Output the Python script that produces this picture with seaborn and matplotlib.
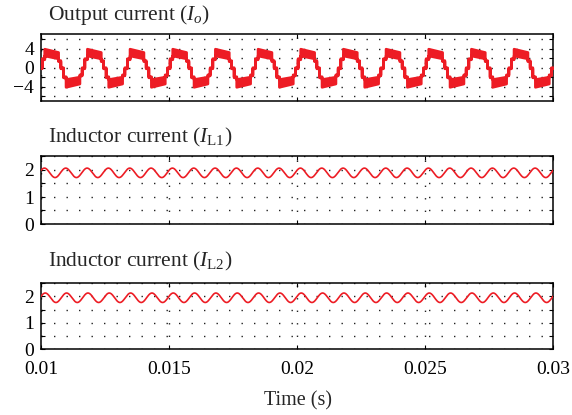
import numpy as np
import pandas as pd
import matplotlib
matplotlib.use("Agg")
import matplotlib.pyplot as plt
import seaborn as sns

# ---------------- data ----------------
time_range = [0.01, 0.03]
x_ticks = [0.01, 0.015, 0.02, 0.025, 0.03]
x_tick_labels = ["0.01", "0.015", "0.02", "0.025", "0.03"]

# Output current: 5-level staircase, one period described by breakpoints
io_freq = 600.0                 # Hz (12 cycles over 0.02 s)
io_phase_offset = -0.015        # phase at t = 0.01 (in periods)
io_bp_x = [0, 8, 8.01, 50, 50.01, 57, 57.01, 65, 65.01, 73, 73.01, 115, 115.01, 122, 122.01, 130]  # /130 of a period
io_hi = [2.0, 2.0, 4.0, 3.3, 1.6, 1.6, 0.1, 0.1, -1.8, -1.8, -2.4, -1.9, -1.4, -1.4, 0.1, 0.1]
io_lo = [1.8, 1.8, 2.6, 2.0, 1.4, 1.4, -0.1, -0.1, -2.0, -2.0, -4.0, -3.3, -1.6, -1.6, -0.1, -0.1]
io_yticks = [-6, -4, -2, 0, 2, 4, 6]
io_ytick_labels = ["", "\u22124", "", "0", "", "4", ""]

# Inductor currents: ripple at twice the output frequency
ripple_freq = 1200.0
il_names = ["IL1", "IL2"]
il_mean = [1.895, 1.95]
il_amp = [0.175, 0.18]
il_peak_phase = [0.16, 0.20]
il_yticks = [0, 0.5, 1, 1.5, 2, 2.5]
il_ytick_labels = ["0", "", "1", "", "2", ""]

titles = [r"Output current ($I_o$)",
          r"Inductor current ($I_{\mathrm{L1}}$)",
          r"Inductor current ($I_{\mathrm{L2}}$)"]

# ---------------- build waveforms ----------------
t = np.linspace(time_range[0], time_range[1], 24001)
ph = ((t - time_range[0]) * io_freq + io_phase_offset) % 1.0 * 130.0
io_upper = np.interp(ph, io_bp_x, io_hi)
io_lower = np.interp(ph, io_bp_x, io_lo)

il_frames = []
for name, m, a, p in zip(il_names, il_mean, il_amp, il_peak_phase):
    y = m + a * np.cos(2 * np.pi * ((t - time_range[0]) * ripple_freq - p))
    il_frames.append(pd.DataFrame({"t": t, "I": y, "name": name}))

# ---------------- style ----------------
sns.set_theme(style="white")
plt.rcParams["font.family"] = ["Liberation Serif", "DejaVu Serif"]
plt.rcParams["mathtext.fontset"] = "custom"
plt.rcParams["mathtext.rm"] = "Liberation Serif"
plt.rcParams["mathtext.it"] = "Liberation Serif:italic"
plt.rcParams["axes.unicode_minus"] = True

RED = "#ED1C24"
W, H = 572, 415
fig = plt.figure(figsize=(W / 100, H / 100), dpi=100)

boxes = [(34.5, 101.0), (156.5, 224.0), (283.3, 349.0)]  # top, bottom in px
L, R = 41, 553
axes = []
for top, bot in boxes:
    ax = fig.add_axes([L / W, 1 - bot / H, (R - L) / W, (bot - top) / H])
    axes.append(ax)

TICK_FS = 14
def style_axis(ax, yticks, ylabels, ylim, show_x):
    ax.set_xlim(*time_range)
    ax.set_ylim(*ylim)
    ax.set_xticks(x_ticks)
    ax.set_xticklabels(x_tick_labels if show_x else [""] * len(x_ticks))
    ax.set_yticks(yticks)
    ax.set_yticklabels(ylabels)
    ax.grid(True, color="#222222", linewidth=1.0, linestyle=(0, (1, 8)))
    ax.tick_params(direction="in", length=3, width=0.8, top=True, right=True,
                   left=True, bottom=True, labelsize=TICK_FS, colors="black",
                   pad=5)
    ax.tick_params(axis="x", pad=8.5)
    for s in ax.spines.values():
        s.set_visible(True)
        s.set_color("black")
        s.set_linewidth(1.1)
    ax.set_xlabel("")
    ax.set_ylabel("")
    ax.set_axisbelow(True)

# panel 1
ax = axes[0]
ax.fill_between(t, io_lower, io_upper, color=RED, edgecolor=RED, linewidth=2.0, zorder=3)
style_axis(ax, io_yticks, io_ytick_labels, (-7, 7), False)

# panels 2 & 3
for ax, df in zip(axes[1:], il_frames):
    sns.lineplot(data=df, x="t", y="I", ax=ax, color=RED, linewidth=1.2,
                 estimator=None, sort=False, legend=False, zorder=3)
    style_axis(ax, il_yticks, il_ytick_labels, (0, 2.5), ax is axes[2])

# titles
for baseline, txt in zip([20.0, 142.7, 266.7], titles):
    fig.text(48 / W, 1 - baseline / H, txt, fontsize=15.5, ha="left", va="baseline")

fig.text(298 / W, 1 - 405 / H, "Time (s)", fontsize=14.5, ha="center", va="baseline")

fig.savefig("out.png", dpi=100)
